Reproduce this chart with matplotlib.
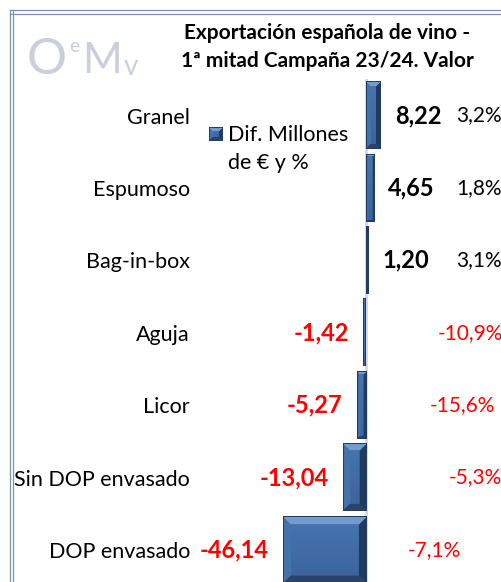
import numpy as np
import matplotlib.pyplot as plt
from matplotlib.lines import Line2D

plt.rcParams['font.family'] = ['Lato', 'DejaVu Sans']

# datos
categorias = ['Granel', 'Espumoso', 'Bag-in-box', 'Aguja', 'Licor',
              'Sin DOP envasado', 'DOP envasado']
dif_millones = [8.22, 4.65, 1.20, -1.42, -5.27, -13.04, -46.14]
dif_pct = [3.2, 1.8, 3.1, -10.9, -15.6, -5.3, -7.1]

titulo = "Exportación española de vino -\n1ª mitad Campaña 23/24. Valor"
leyenda = "Dif. Millones\nde € y %"

W, H = 502, 582
fig = plt.figure(figsize=(W / 100, H / 100), dpi=100)

# layout (pixels)
zero_px, scale = 366, 1.8
ax_left = 197
first_c, last_c = 115.5, 550
step = (last_c - first_c) / 6
top_px = first_c - step / 2

ax = fig.add_axes([ax_left / W, 0, 1 - ax_left / W, (H - top_px) / H])
xlim = ((ax_left - zero_px) / scale, (W - zero_px) / scale)
ylim = (6 + (H - last_c) / step, -0.5)

y = np.arange(len(categorias))
bars = ax.barh(y, dif_millones, height=0.93, color='#3d6aa3', zorder=3)
ax.axvline(0, color='#d6d6d6', lw=2, zorder=1)
ax.set_xlim(xlim)
ax.set_ylim(ylim)


def bevel(w, h):
    w = max(int(round(w)), 1)
    h = max(int(round(h)), 1)
    b = min(8, w // 3, h // 3)
    yy, xx = np.mgrid[0:h, 0:w]
    d = np.stack([yy, h - 1 - yy, xx, w - 1 - xx])
    m = d.min(0)
    k = d.argmin(0)
    bot = np.array([0.14, 0.24, 0.40])
    face_t = np.array([0.28, 0.46, 0.69])
    face_b = np.array([0.23, 0.39, 0.61])
    facets = np.array([[0.45, 0.61, 0.81],
                       [0.16, 0.27, 0.43],
                       [0.27, 0.45, 0.67],
                       [0.13, 0.23, 0.37]])
    t = (yy / max(h - 1, 1))[..., None]
    img = face_t * (1 - t) + face_b * t
    mask = m < b
    img[mask] = facets[k[mask]]
    img[m == 0] = np.array([0.14, 0.24, 0.38])
    if b == 0:
        img[:] = img * 0.6 + bot * 0.4
    return img


for bar in bars:
    bb = bar.get_bbox()
    x0, x1 = sorted([bb.x0, bb.x1])
    y0, y1 = sorted([bb.y0, bb.y1])
    p0 = ax.transData.transform((x0, y0))
    p1 = ax.transData.transform((x1, y1))
    img = bevel(abs(p1[0] - p0[0]), abs(p1[1] - p0[1]))
    ax.imshow(img, extent=(x0, x1, y1, y0), aspect='auto', zorder=4,
              interpolation='bilinear')
ax.set_xlim(xlim)
ax.set_ylim(ylim)

ax.set_yticks(y, categorias, fontsize=15.5)
ax.tick_params(axis='y', length=0, pad=5)
ax.set_xticks([])
for s in ax.spines.values():
    s.set_visible(False)
ax.patch.set_alpha(0)


def fmt(v, dec=2):
    return f"{v:.{dec}f}".replace('.', ',')


for yi, v in zip(y, dif_millones):
    pos = v > 0
    ax.annotate(fmt(v), (v, yi), xytext=(10 if pos else -10, 0),
                textcoords='offset points', ha='left' if pos else 'right',
                va='center', fontsize=17, weight='bold',
                color='black' if pos else '#ff0000', zorder=5)

pct_left_px = [456, 456, 456, 438, 430, 449, 408]
for yi, p, lx in zip(y, dif_pct, pct_left_px):
    ax.text((lx - zero_px) / scale, yi, fmt(p, 1) + '%', ha='left',
            va='center', fontsize=15,
            color='black' if p > 0 else '#ff0000', zorder=5)

# titulo
fig.text(327 / W, 1 - 47 / H, titulo, ha='center', va='center',
         fontsize=15, weight='bold', linespacing=1.45)

# logo OeMv
logo_c = '#cbcedd'
fig.text(27 / W, 1 - 60 / H, 'O', fontsize=36, color=logo_c, va='center',
         ha='left')
fig.text(69 / W, 1 - 46 / H, 'e', fontsize=14, color=logo_c, va='center',
         ha='left')
fig.text(82 / W, 1 - 61 / H, 'M', fontsize=31, color=logo_c, va='center',
         ha='left')
fig.text(124 / W, 1 - 67 / H, 'v', fontsize=20, color=logo_c, va='center',
         ha='left')

# leyenda
fig.figimage(bevel(14, 14), xo=209, yo=H - 141, origin='upper', zorder=6)
fig.text(228 / W, 1 - 149 / H, leyenda, ha='left', va='center',
         fontsize=15.5, linespacing=1.45)

# marco doble
frame_c = '#7f91ad'
for off in (10, 13.5):
    fig.add_artist(Line2D([off / W, off / W], [0, 1 - 10 / H],
                          transform=fig.transFigure, color=frame_c, lw=0.9))
for off in (10, 14):
    fig.add_artist(Line2D([10 / W, 1], [1 - off / H, 1 - off / H],
                          transform=fig.transFigure, color=frame_c, lw=0.9))

fig.savefig('out.png', dpi=100)
